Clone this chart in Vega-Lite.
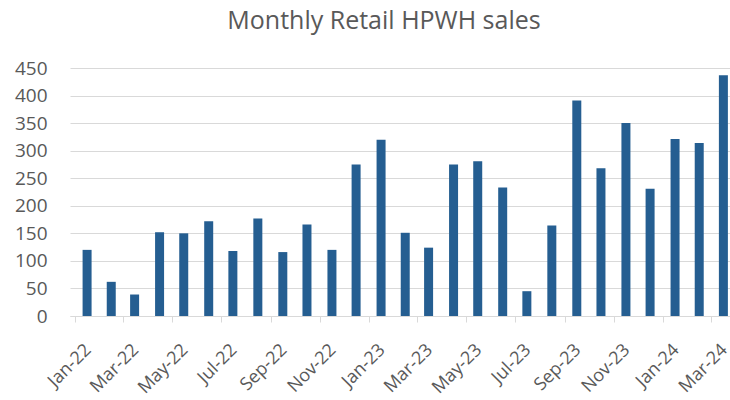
{
  "$schema": "https://vega.github.io/schema/vega-lite/v6.json",
  "width": 660,
  "height": 248,
  "autosize": "none",
  "padding": {"left": 70, "top": 68, "right": 0, "bottom": 84},
  "background": "white",
  "title": {"text": "Monthly Retail HPWH sales", "font": "Open Sans", "fontSize": 25, "fontWeight": "normal", "color": "#595959", "anchor": "middle", "dx": -16, "offset": 25},
  "config": {"view": {"stroke": null}},
  "data": {"values": [
    {"month": "2022-01-16", "sales": 120},
    {"month": "2022-02-15", "sales": 62},
    {"month": "2022-03-16", "sales": 39},
    {"month": "2022-04-16", "sales": 152},
    {"month": "2022-05-16", "sales": 150},
    {"month": "2022-06-16", "sales": 172},
    {"month": "2022-07-16", "sales": 118},
    {"month": "2022-08-16", "sales": 177},
    {"month": "2022-09-16", "sales": 116},
    {"month": "2022-10-16", "sales": 166},
    {"month": "2022-11-16", "sales": 120},
    {"month": "2022-12-16", "sales": 275},
    {"month": "2023-01-16", "sales": 320},
    {"month": "2023-02-15", "sales": 151},
    {"month": "2023-03-16", "sales": 124},
    {"month": "2023-04-16", "sales": 275},
    {"month": "2023-05-16", "sales": 281},
    {"month": "2023-06-16", "sales": 233},
    {"month": "2023-07-16", "sales": 45},
    {"month": "2023-08-16", "sales": 164},
    {"month": "2023-09-16", "sales": 391},
    {"month": "2023-10-16", "sales": 268},
    {"month": "2023-11-16", "sales": 350},
    {"month": "2023-12-16", "sales": 231},
    {"month": "2024-01-16", "sales": 321},
    {"month": "2024-02-15", "sales": 314},
    {"month": "2024-03-16", "sales": 437}
  ]},
  "mark": {"type": "bar", "width": 9, "color": "#255e91", "clip": true},
  "encoding": {
    "x": {
      "field": "month", "type": "temporal",
      "scale": {"domain": [{"year": 2022, "month": 1, "date": 1}, {"year": 2024, "month": 3, "date": 18}]},
      "axis": {
        "title": null, "format": "%b-%y", "tickCount": {"interval": "month", "step": 2},
        "labelAngle": -45, "labelAlign": "right", "labelBaseline": "middle",
        "labelFont": "Open Sans", "labelFontSize": 18, "labelColor": "#595959",
        "labelPadding": 25, "labelOffset": 13, "labelOverlap": false, "labelFlush": false,
        "grid": false, "domainColor": "#d9d9d9", "tickColor": "#d9d9d9", "tickSize": 6
      }
    },
    "y": {
      "field": "sales", "type": "quantitative",
      "scale": {"domain": [0, 450], "nice": false},
      "axis": {
        "title": null, "values": [0, 50, 100, 150, 200, 250, 300, 350, 400, 450],
        "domain": false, "ticks": false, "grid": true, "gridColor": "#d9d9d9",
        "labelFont": "Open Sans", "labelFontSize": 19, "labelColor": "#595959", "labelPadding": 23
      }
    }
  }
}
